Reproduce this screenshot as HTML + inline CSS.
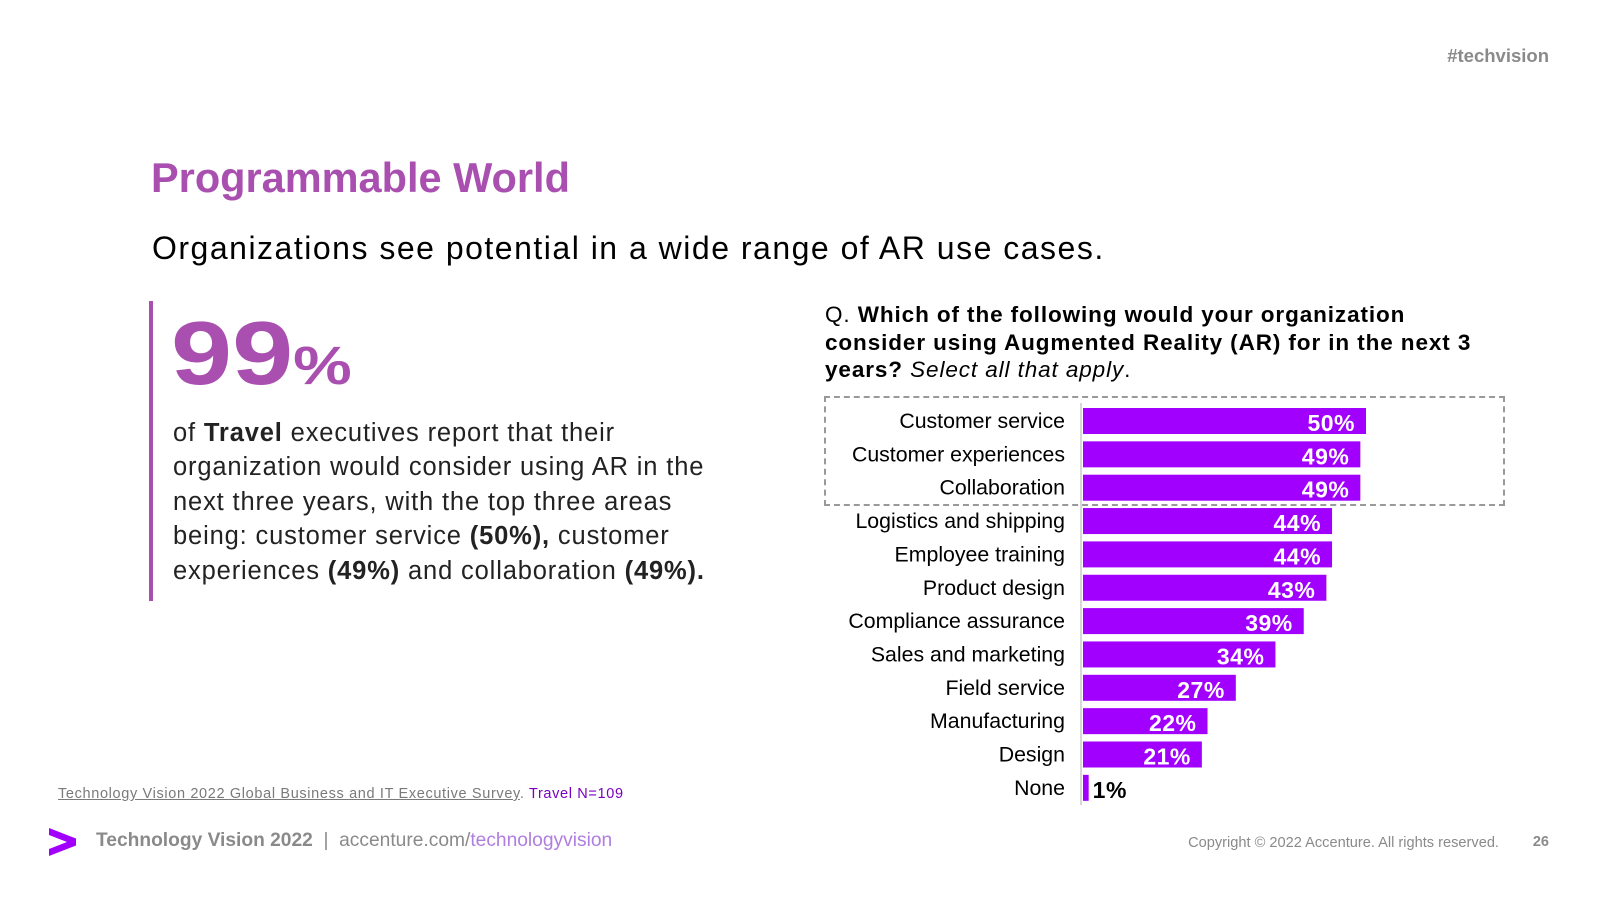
<!DOCTYPE html>
<html><head><meta charset="utf-8"><style>
body{margin:0;width:1600px;height:900px;background:#fff;position:relative;overflow:hidden;font-family:"Liberation Sans",sans-serif;color:#000}
.a{position:absolute;white-space:nowrap}
</style></head><body>
<div class="a" style="right:51px;top:45px;font-size:18.5px;font-weight:bold;color:#8a8a8a">#techvision</div>
<div class="a" style="left:151px;top:154px;font-size:41.5px;font-weight:bold;color:#a94fb0">Programmable World</div>
<div class="a" style="left:152px;top:230px;font-size:32px;letter-spacing:1.5px">Organizations see potential in a wide range of AR use cases.</div>
<div class="a" style="left:149px;top:301px;width:4px;height:300px;background:#a94fb0"></div>
<div class="a" style="left:171px;top:303px;font-size:90px;font-weight:bold;color:#a94fb0;transform:scaleX(1.22);transform-origin:left top">99<span style="font-size:54px">%</span></div>
<div class="a" style="left:173px;top:416px;font-size:25.5px;line-height:34.4px;color:#222;letter-spacing:0.85px">of <b>Travel</b> executives report that their<br>organization would consider using AR in the<br>next three years, with the top three areas<br>being: customer service <b>(50%),</b> customer<br>experiences <b>(49%)</b> and collaboration <b>(49%).</b></div>
<div class="a" style="left:825px;top:301px;font-size:22.5px;line-height:27.7px;letter-spacing:0.9px">Q. <b>Which of the following would your organization</b><br><b>consider using Augmented Reality (AR) for in the next 3</b><br><b>years?</b> <i>Select all that apply</i>.</div>
<div class="a" style="left:824px;top:396px;width:677px;height:106px;border:2px dashed #999"></div>
<svg class="a" style="left:0;top:0" width="1600" height="900" id="chart"></svg>
<div class="a" style="left:58px;top:786px;font-size:14.5px;letter-spacing:0.65px;color:#7a7a7a"><span style="text-decoration:underline">Technology Vision 2022 Global Business and IT Executive Survey</span>. <span style="color:#7a00c0">Travel N=109</span></div>
<svg class="a" style="left:49px;top:828px" width="29" height="29"><polygon points="0,0 27,10.5 27,17.5 0,28 0,21 18,14 0,7" fill="#a100ff"/></svg>
<div class="a" style="left:96px;top:830px;font-size:19.2px;color:#8a8a8a"><b>Technology Vision 2022</b> &nbsp;|&nbsp; accenture.com/<span style="color:#b07ee0">technologyvision</span></div>
<div class="a" style="right:101px;top:835px;font-size:14.6px;color:#8a8a8a">Copyright © 2022 Accenture. All rights reserved.</div>
<div class="a" style="right:51px;top:834px;font-size:14.5px;font-weight:bold;color:#8a8a8a">26</div>
<script>
const categories=["Customer service","Customer experiences","Collaboration","Logistics and shipping","Employee training","Product design","Compliance assurance","Sales and marketing","Field service","Manufacturing","Design","None"];
const values=[50,49,49,44,44,43,39,34,27,22,21,1];
const valueLabels=["50%","49%","49%","44%","44%","43%","39%","34%","27%","22%","21%","1%"];
const svg=document.getElementById('chart');
const NS='http://www.w3.org/2000/svg';
const x0=1083, pxPer=5.66, y0=408, pitch=33.35, bh=26;
const xs=v=>x0+v*pxPer, ys=i=>y0+i*pitch;
const ax=document.createElementNS(NS,'line');
ax.setAttribute('x1',1081);ax.setAttribute('x2',1081);ax.setAttribute('y1',403);ax.setAttribute('y2',805);
ax.setAttribute('stroke','#ccc');ax.setAttribute('stroke-width','1.5');


svg.appendChild(ax);
categories.forEach((c,i)=>{
 const r=document.createElementNS(NS,'rect');
 r.setAttribute('x',x0);r.setAttribute('y',ys(i));r.setAttribute('width',xs(values[i])-x0);r.setAttribute('height',bh);r.setAttribute('fill','#a100ff');
 
 
 svg.appendChild(r);
 const t=document.createElementNS(NS,'text');
 t.setAttribute('x',1065);t.setAttribute('y',ys(i)+20);t.setAttribute('text-anchor','end');t.setAttribute('font-size','21.3');t.setAttribute('font-family','Liberation Sans, sans-serif');
 t.textContent=c;
 
 
 svg.appendChild(t);
 const v=document.createElementNS(NS,'text');
 const inside=values[i]>5;
 v.setAttribute('x',inside?xs(values[i])-11:xs(values[i])+4);v.setAttribute('y',ys(i)+23);
 v.setAttribute('text-anchor',inside?'end':'start');v.setAttribute('font-size','23');v.setAttribute('font-weight','bold');v.setAttribute('letter-spacing','0.5');
 v.setAttribute('fill',inside?'#fff':'#000');v.setAttribute('font-family','Liberation Sans, sans-serif');
 v.textContent=valueLabels[i];
 
 
 svg.appendChild(v);
});
</script>
</body></html>
